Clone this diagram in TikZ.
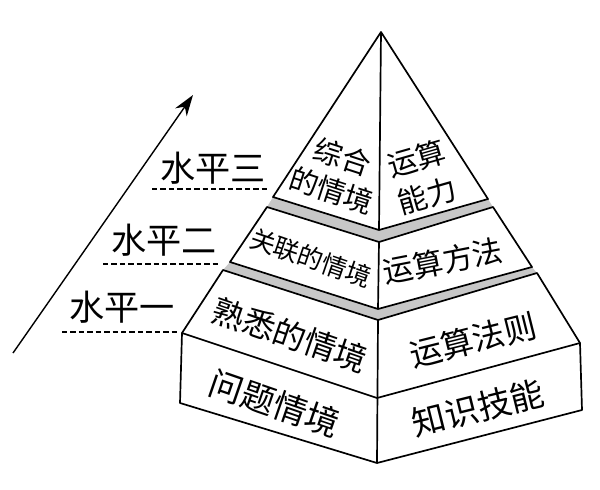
\documentclass[tikz,border=0pt]{standalone}
\usepackage{fontspec}
\newfontfamily\cjk{Noto Sans CJK SC}
\usetikzlibrary{arrows.meta}

\begin{document}
\begin{tikzpicture}[x=0.025cm, y=-0.025cm, line width=1.2pt, line join=round,
		face/.style 2 args={font=\cjk\fontsize{#1}{#2}\selectfont, align=center, inner sep=0pt},
		level/.style={font=\cjk\fontsize{25}{30}\selectfont, inner sep=0pt},
		band/.style={fill=black!22, draw=none},
		guide/.style={line width=1pt, dash pattern=on 3.8pt off 2.2pt}]

		\useasboundingbox (0,0) rectangle (600,489);

		% the corners of the layers
		\coordinate (apex) at (381,32);
		\coordinate (l3) at (273,197);
		\coordinate (c3) at (379,230);
		\coordinate (r3) at (488,199);

		\coordinate (l2t) at (267,207);
		\coordinate (c2t) at (379,242);
		\coordinate (r2t) at (493,207);
		\coordinate (l2) at (230,262);
		\coordinate (c2) at (378,309);
		\coordinate (r2) at (532,267);

		\coordinate (l1t) at (223,270);
		\coordinate (c1t) at (378,320);
		\coordinate (r1t) at (537,273);
		\coordinate (l1) at (182,333);
		\coordinate (c1) at (377,398);
		\coordinate (r1) at (580,343);
		\coordinate (l0) at (180,403);
		\coordinate (c0) at (377,463);
		\coordinate (r0) at (582,410);

		% the gray bands
		\fill[band] (l3) -- (c3) -- (r3) -- (r2t) -- (c2t) -- (l2t) -- cycle;
		\fill[band] (l2) -- (c2) -- (r2) -- (r1t) -- (c1t) -- (l1t) -- cycle;

		% draw the layers
		\draw (apex) -- (l3) -- (c3) -- (r3) -- cycle;
		\draw (apex) -- (c3);
		\draw (l2t) -- (c2t) -- (r2t) -- (r2) -- (c2) -- (l2) -- cycle;
		\draw (c2t) -- (c2);
		\draw (l1t) -- (c1t) -- (r1t) -- (r1) -- (r0) -- (c0) -- (l0) -- (l1) -- cycle;
		\draw (l1) -- (c1) -- (r1);
		\draw (c1t) -- (c0);

		% the texts on the faces
		\node[face={20.5}{25}, rotate=-18] (top left) at (337,174) {综合\\的情境};
		\node[face={21}{27}, rotate=16] (top right) at (422,177) {运算\\能力};
		\node[face={18}{22}, rotate=-19] (mid left) at (311,258) {关联的情境};
		\node[face={21.5}{26}, rotate=11] (mid right) at (443,261) {运算方法};
		\node[face={23}{28}, rotate=-19] (low left) at (290,335) {熟悉的情境};
		\node[face={23}{28}, rotate=14] (low right) at (473,340) {运算法则};
		\node[face={24}{29}, rotate=-19] (base left) at (275,403) {问题情境};
		\node[face={24}{29}, rotate=14] (base right) at (478,408) {知识技能};

		% the levels
		\node[level] (lvl3) at (213,168) {水平三};
		\node[level] (lvl2) at (164,240) {水平二};
		\node[level] (lvl1) at (122,307) {水平一};

		\coordinate (d3a) at (152,189);
		\coordinate (d3b) at (267,189);
		\coordinate (d2a) at (103,264);
		\coordinate (d2b) at (218,264);
		\coordinate (d1a) at (62,332);
		\coordinate (d1b) at (180,332);
		\draw[guide] (d3a) -- (d3b);
		\draw[guide] (d2a) -- (d2b);
		\draw[guide] (d1a) -- (d1b);

		% draw the arrow
		\coordinate (from) at (13,353);
		\coordinate (to) at (193,95);
		\draw[line width=1pt, -{Stealth[length=15pt, width=10pt]}] (from) -- (to);

	\end{tikzpicture}
\end{document}
